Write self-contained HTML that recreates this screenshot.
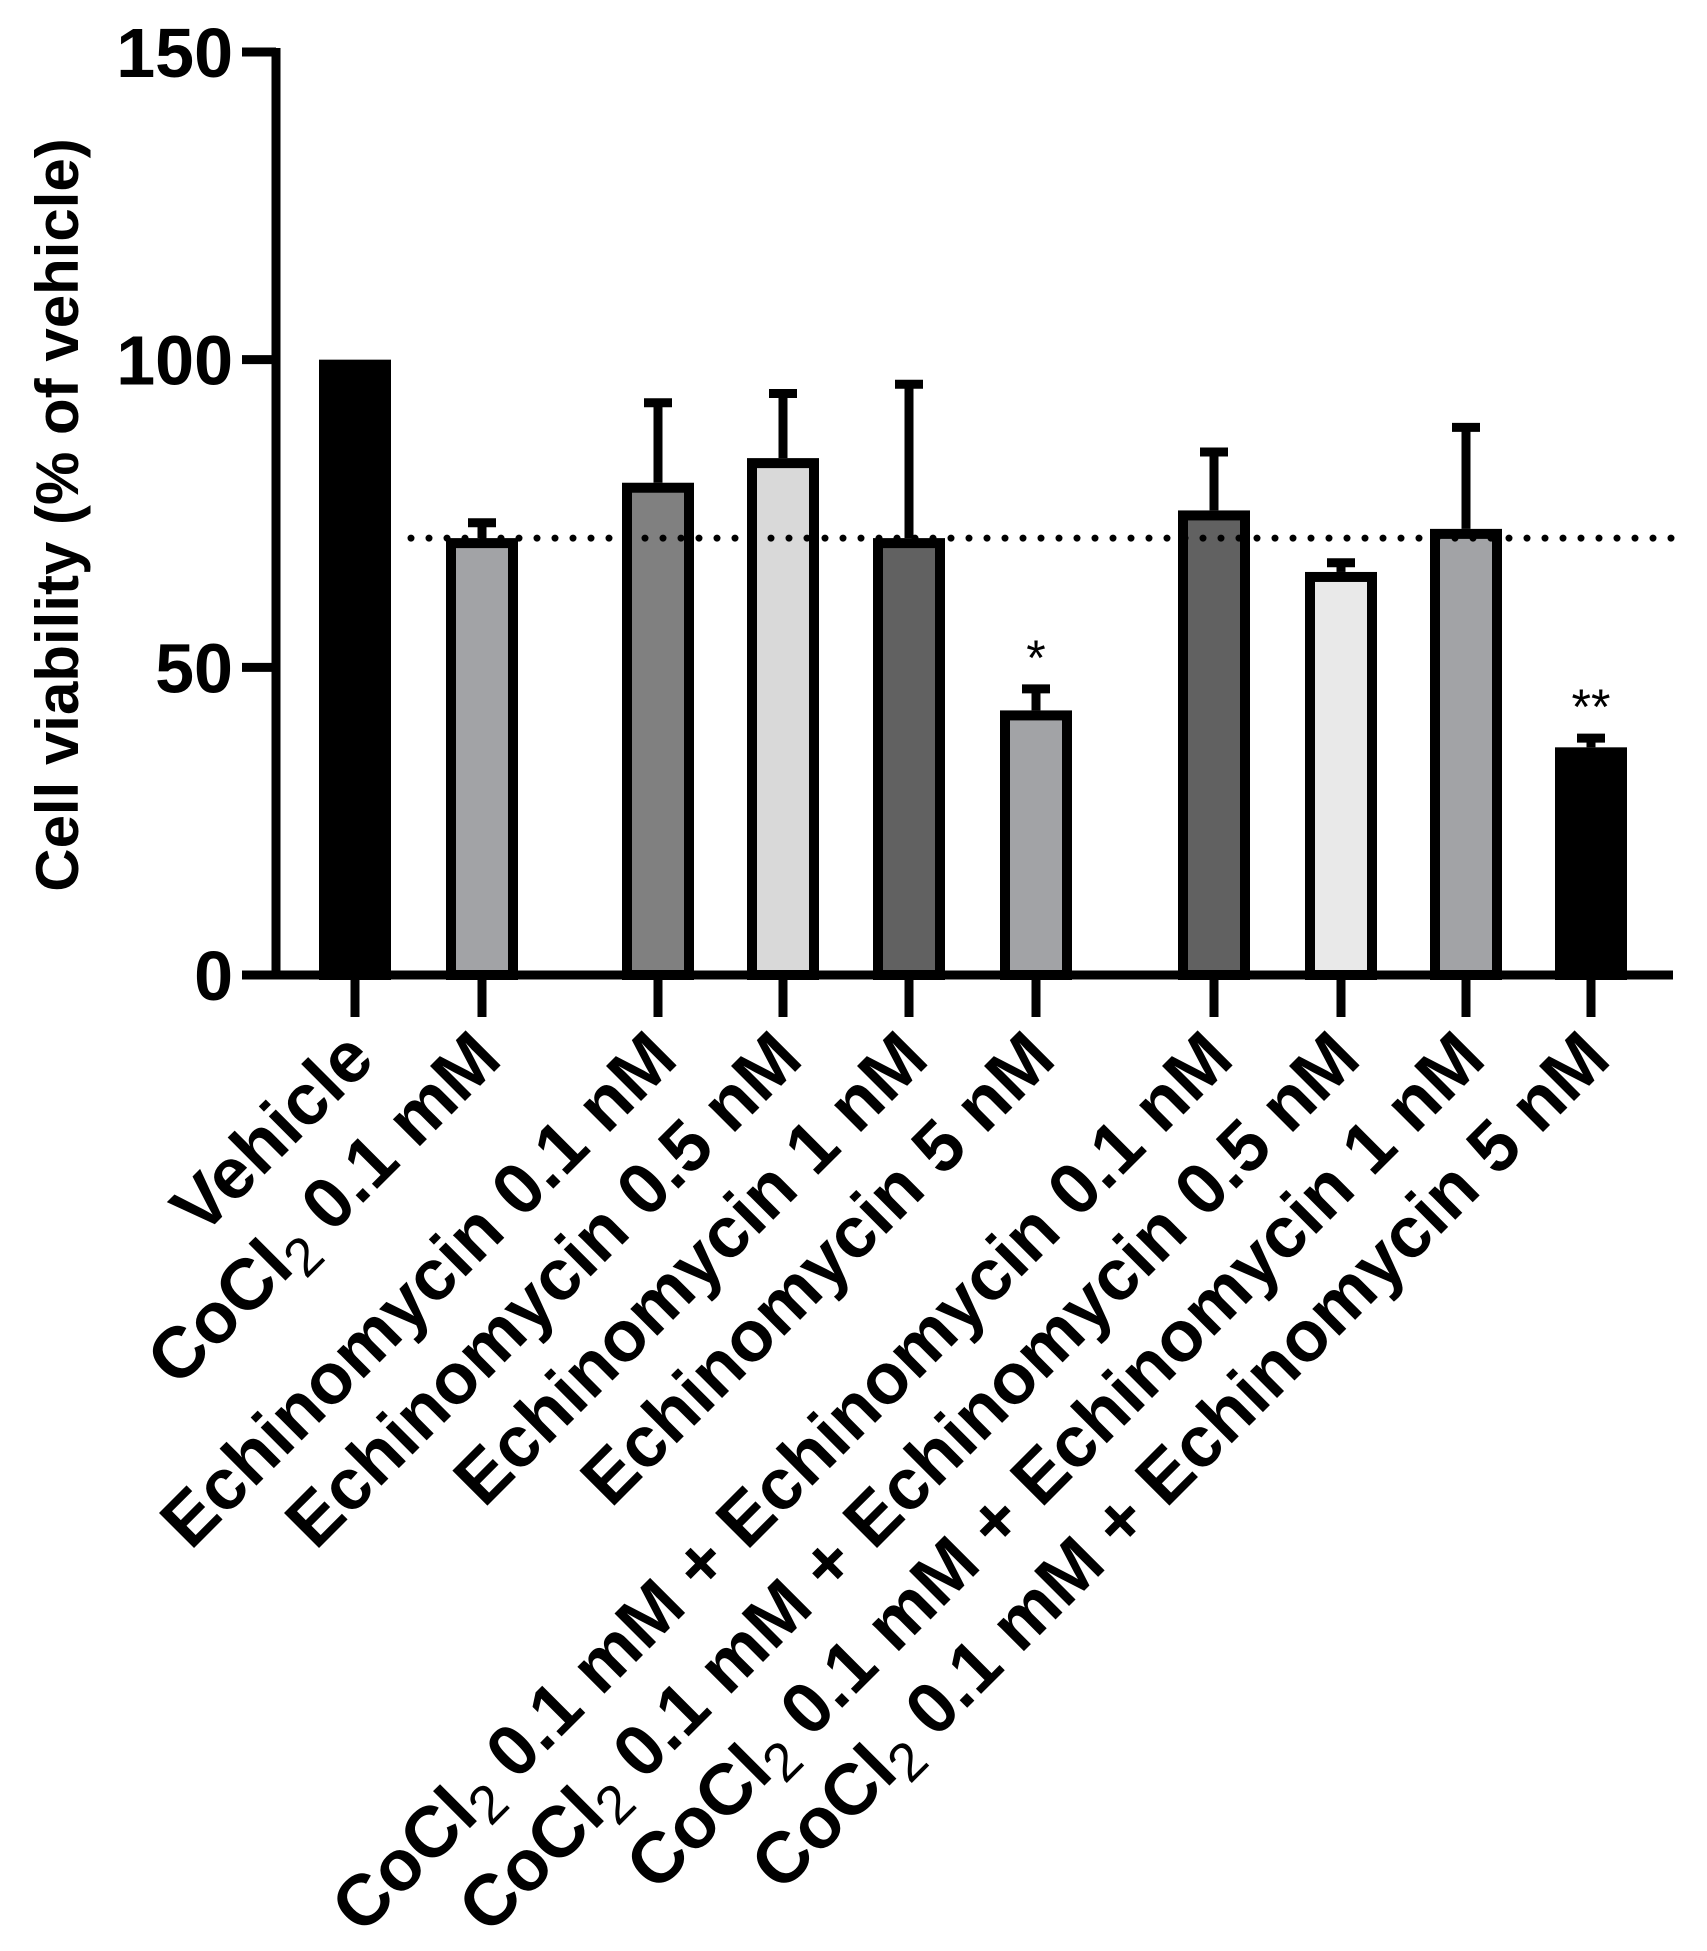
<!DOCTYPE html>
<html><head><meta charset="utf-8"><style>body{margin:0;background:#fff}svg{display:block}</style></head>
<body>
<svg id="chart" width="1707" height="1951" xmlns="http://www.w3.org/2000/svg" font-family="Liberation Sans, Arial, sans-serif"></svg>
<script>
const categories=[["Vehicle",""],["CoCl","2 0.1 mM"],["Echinomycin 0.1 nM",""],["Echinomycin 0.5 nM",""],["Echinomycin 1 nM",""],["Echinomycin 5 nM",""],["CoCl","2 0.1 mM + Echinomycin 0.1 nM"],["CoCl","2 0.1 mM + Echinomycin 0.5 nM"],["CoCl","2 0.1 mM + Echinomycin 1 nM"],["CoCl","2 0.1 mM + Echinomycin 5 nM"]];
const values=[100,71,80,84,71,43,75.5,65.5,72.5,37];
const errors=[0,2.5,13,10.5,25,3.5,9.5,1.5,16.5,1.5];
const fills=["#000","#a2a3a6","#808080","#d9d9d9","#616161","#a2a3a6","#616161","#e9e9e9","#a2a3a6","#000"];
const stars=["","","","","","*","","","","**"];
const yTicks=[0,50,100,150];
const refLine=71;
const NS="http://www.w3.org/2000/svg",svg=document.getElementById('chart');
const Y0=975,YT=52;
const y=v=>Y0-v*((Y0-YT)/150);
const xs=[355,482,658,783,909,1036,1214,1341,1466,1591];
const x=i=>xs[i];
function el(t,a,p){const e=document.createElementNS(NS,t);for(const k in a)e.setAttribute(k,a[k]);(p||svg).appendChild(e);return e;}
const bw=72;
values.forEach((v,i)=>{
 if(errors[i]>0){
  const l=el('line',{x1:x(i),x2:x(i),y1:y(v),y2:y(v+errors[i]),stroke:'#000','stroke-width':9});
  
  
  const c=el('line',{x1:x(i)-14,x2:x(i)+14,y1:y(v+errors[i]),y2:y(v+errors[i]),stroke:'#000','stroke-width':9});
  
  
 }
 const r=el('rect',{x:x(i)-bw/2+5,y:y(v)+5,width:bw-10,height:Y0-y(v)-5,fill:fills[i],stroke:'#000','stroke-width':10});
 
 
 const t=el('line',{x1:x(i),x2:x(i),y1:Y0,y2:1017,stroke:'#000','stroke-width':9});
 
 
 if(stars[i]){const s=el('text',{x:x(i),y:y(v+errors[i])-14,'font-size':50,'text-anchor':'middle'});s.textContent=stars[i];
  
  }
 const g=el('text',{transform:`translate(${x(i)+22},1062) rotate(-45)`,'font-size':72,'font-weight':'bold','text-anchor':'end'});
 
 
 const lab=categories[i];
 if(lab[1]){
  const a=el('tspan',{},g);a.textContent=lab[0];
  const b=el('tspan',{'font-weight':'normal','font-size':54,dy:14},g);b.textContent='2';
  const c=el('tspan',{dy:-14},g);c.textContent=lab[1].slice(1);
 } else g.textContent=lab[0];
});
const d=el('line',{x1:411,x2:1673,y1:y(refLine),y2:y(refLine),stroke:'#000','stroke-width':7,'stroke-dasharray':'0 18','stroke-linecap':'round'});


const ya=el('line',{x1:276,x2:276,y1:48,y2:979,stroke:'#000','stroke-width':9});


const xa=el('line',{x1:242,x2:1673,y1:Y0,y2:Y0,stroke:'#000','stroke-width':9});


yTicks.forEach(v=>{
 const t=el('line',{x1:242,x2:276,y1:y(v),y2:y(v),stroke:'#000','stroke-width':9});
 
 
 const l=el('text',{x:233,y:y(v)+25,'font-size':70,'font-weight':'bold','text-anchor':'end'});
 l.textContent=v;
 
 
});
const yt=el('text',{transform:'translate(78,515) rotate(-90)','font-size':60,'font-weight':'bold','text-anchor':'middle'});
yt.textContent='Cell viability (% of vehicle)';


</script>
</body></html>
